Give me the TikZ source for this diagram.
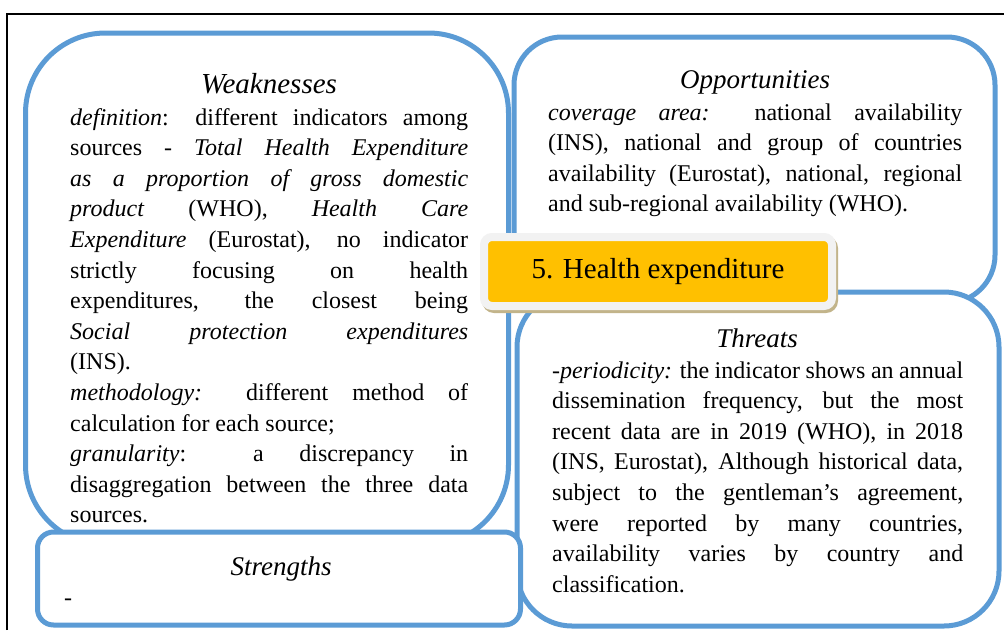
\documentclass[tikz,border=0pt]{standalone}
\usepackage{fontspec}
\setmainfont{Liberation Serif}
\usepackage{xcolor}
\usepackage{tikz}
\setlength{\parindent}{0pt}

\definecolor{swotblue}{RGB}{91,155,213}
\definecolor{swotgold}{RGB}{255,192,0}
\definecolor{swotgrey}{RGB}{242,242,242}
\definecolor{swottan}{RGB}{194,180,138}

\begin{document}
\begin{tikzpicture}[
		x=1pt, y=-1pt,
		panel/.style={draw=swotblue, line width=5pt, fill=white, inner sep=0pt},
		head/.style={font=\fontsize{27}{31}\selectfont\itshape, inner sep=0pt, anchor=base},
		body/.style={font=\fontsize{24}{30.6}\selectfont, align=justify, inner sep=0pt, anchor=base west}
		]
		\useasboundingbox (0,0) rectangle (1004,630);
		
		% Marco
		\draw[line width=1.5pt] (7,630) -- (7,14) -- (1004,14);
		
		% Cajas
		\node[panel, rounded corners=48pt, minimum width=481, minimum height=266] (opportunity) at (754.5,170) {};
		\node[panel, rounded corners=80pt, minimum width=483, minimum height=512] (weakness) at (267,289) {};
		\node[panel, rounded corners=55pt, minimum width=482, minimum height=334] (threat) at (758,459) {};
		\node[panel, rounded corners=16pt, minimum width=483, minimum height=93] (strength) at (279,578.5) {};
		
		% Titulo central
		\node[fill=swottan, rounded corners=12pt, minimum width=356, minimum height=77] (shade) at (660,274.5) {};
		\node[draw=swotgrey, line width=8pt, fill=swotgold, rounded corners=8pt, minimum width=348, minimum height=69,
			font=\fontsize{29}{34}\selectfont] (topic) at (658,271.5) {5. Health expenditure};
		
		% Textos
		\node[head, font=\fontsize{29}{31}\selectfont\itshape] (weaktitle) at (269,93) {Weaknesses};
		\node[body, text width=398] (weaktext) at (70,125) {\textit{definition}: different indicators among\linebreak
			sources - \textit{Total Health Expenditure\linebreak
			as a proportion of gross domestic\linebreak
			product} (WHO), \textit{Health Care\linebreak
			Expenditure} (Eurostat), no indicator\linebreak
			strictly focusing on health\linebreak
			expenditures, the closest being\linebreak
			\textit{Social protection expenditures}\linebreak
			(INS).\par
			\textit{methodology:} different method of\linebreak
			calculation for each source;\par
			\textit{granularity}: a discrepancy in\linebreak
			disaggregation between the three data\linebreak
			sources.};
		
		\node[head] (opptitle) at (755,88) {Opportunities};
		\node[body, text width=414] (opptext) at (548,120) {\textit{coverage area:}\ \ national availability\linebreak
			(INS), national and group of countries\linebreak
			availability (Eurostat), national, regional\linebreak
			and sub-regional availability (WHO).};
		
		\node[head] (threattitle) at (757,347) {Threats};
		\node[body, text width=411] (threattext) at (552,378) {-\textit{periodicity:} the indicator shows an annual\linebreak
			dissemination frequency, but the most\linebreak
			recent data are in 2019 (WHO), in 2018\linebreak
			(INS, Eurostat), Although historical data,\linebreak
			subject to the gentleman’s agreement,\linebreak
			were reported by many countries,\linebreak
			availability varies by country and\linebreak
			classification.};
		
		\node[head] (strengthtitle) at (281,575) {Strengths};
		\node[body] (strengthtext) at (64,605) {-};
		
	\end{tikzpicture}
\end{document}
